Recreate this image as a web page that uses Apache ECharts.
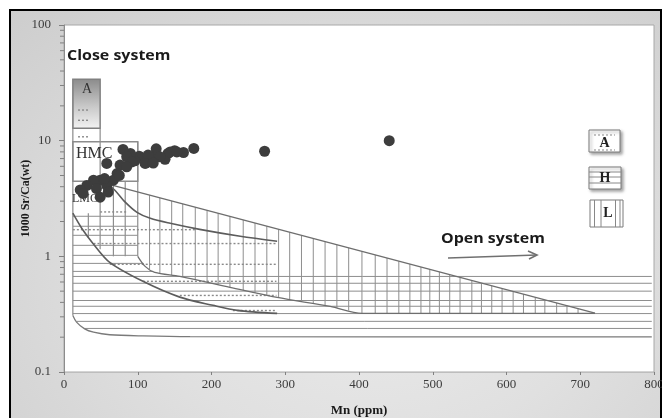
<!DOCTYPE html>
<html><head><meta charset="utf-8">
<script src="https://cdn.jsdelivr.net/npm/echarts@6/dist/echarts.min.js"></script>
<style>
html,body{margin:0;padding:0;background:#fff;overflow:hidden;}
#frame{position:absolute;left:9px;top:9px;width:649px;height:430px;border:2px solid #000;
 background:radial-gradient(ellipse at 55% 62%, #ebebeb 0%, #e0e0e0 45%, #cdcdcd 100%);}
#chart{position:absolute;left:0;top:0;width:662px;height:418px;}
</style></head><body>
<div id="frame"></div><div id="chart"></div>
<script>
// ---------- axes ----------
const xTickValues = [0, 100, 200, 300, 400, 500, 600, 700, 800];
const yTickValues = [0.1, 1, 10, 100];
const yTickLabels = ['0.1', '1', '10', '100'];
const yMinorTicks = [0.2,0.3,0.4,0.5,0.6,0.7,0.8,0.9,2,3,4,5,6,7,8,9,20,30,40,50,60,70,80,90];

// ---------- samples ----------
const sampleMn   = [176,162,150,141,137,125,121,112,102,96,90,80,85,76,72,58,67,58,49,40,31,22,26,44,49,60,92,85,114,130,110,121,144,153,55,75,272,441];
const sampleSrCa = [8.56,7.9,8.2,7.75,6.9,8.5,7.25,6.45,7.35,6.7,7.75,8.4,7.25,6.15,5.2,6.35,4.55,4.1,4.55,4.55,4.1,3.75,3.5,3.85,3.25,3.6,6.55,5.95,7.5,7.25,6.35,6.4,8.0,8.0,4.7,5.0,8.1,10.0];

// ---------- field boxes ----------
const aBoxMn = [12, 49];      const aBoxSrCa = [12.8, 34];
const hmcBoxMn = [12, 100];   const hmcBoxSrCa = [4.46, 9.77];
const leftEdgeLine = [[12, 34], [12, 0.308]];

// ---------- field boundary curves ----------
const upperACurve = [[60,4.2],[69,3.73],[83,2.94],[99,2.40],[117,2.13],[144,1.93],[184,1.71],[239,1.49],[289,1.35]];
const lowerACurve = [[12,2.36],[24,1.75],[39,1.30],[62,0.887],[107,0.608],[157,0.444],[202,0.377],[235,0.341],[289,0.321]];
const lFieldTop = [[65,4.12],[720,0.323]];
const lFieldBottom = [[100,1.0],[110,0.819],[123,0.726],[157,0.671],[225,0.54],[289,0.441],[361,0.369],[404,0.321],[720,0.321]];
const hFieldBottom = [[12,0.308],[17,0.27],[28,0.236],[40,0.221],[62,0.21],[107,0.205],[171,0.202],[797,0.201]];

// ---------- hatching (H field: horizontal) ----------
const hLevels = [2.22,1.82,1.52,1.245,1.02,0.869,0.741,0.67,0.585,0.50,0.415,0.37,0.32,0.274,0.238];
const hStart  = [12,12,12,12,12,12,12,12,12,12,12,12,12,17,27];
const hEnd    = [100,100,100,100,100,108,121,797,797,797,797,797,797,797,797];

// ---------- hatching (L field: vertical) ----------
const lLeftMn     = [33, 49, 67, 83, 100];
const lLeftTop    = [2.36, 12.8, 4.46, 4.46, 9.77];
const lLeftBottom = [1.45, 1.15, 1.0, 1.0, 1.0];
const lLinesMn = [116,130,146,161,178,194,209,225,243,259,275,291,306,322,338,354,370,386,404,422,438,454,469,484,496,509,523,537,553,566,580,594,609,623,639,652,668,682,697];

// ---------- dotted trends (A field) ----------
const dotSrCa  = [18.4, 15.0, 10.8, 2.42, 1.70, 1.29, 0.853, 0.608, 0.459, 0.34];
const dotStart = [19, 19, 19, 49, 12, 40, 62, 107, 157, 229];
const dotEnd   = [35, 35, 35, 85, 180, 288, 288, 288, 288, 288];

const chart = echarts.init(document.getElementById('chart'), null, {renderer: 'canvas'});

function interpY(pts, x) {
  for (let i = 0; i < pts.length - 1; i++) {
    const a = pts[i], b = pts[i + 1];
    if (x >= a[0] && x <= b[0]) {
      const t = (x - a[0]) / (b[0] - a[0] || 1);
      return a[1] + t * (b[1] - a[1]);
    }
  }
  return pts[pts.length - 1][1];
}

function hSegRender(stroke, width, dash) {
  return function (params, api) {
    const a = api.coord([api.value(0), api.value(2)]);
    const b = api.coord([api.value(1), api.value(2)]);
    return {type: 'line', shape: {x1: a[0], y1: a[1], x2: b[0], y2: b[1]},
      style: {stroke: stroke, lineWidth: width, lineDash: dash || null}};
  };
}

const hatchColor = '#8e8e8e';
const curveColor = '#5c5c5c';

function lineSeries(data, color, width) {
  return {type: 'line', data: data, showSymbol: false, symbol: 'none', smooth: 0.3,
    lineStyle: {color: color, width: width}, silent: true, animation: false, z: 4};
}

const option = {
  backgroundColor: 'transparent',
  animation: false,
  grid: {left: 64, right: 8, top: 25, bottom: 46, show: true, backgroundColor: '#ffffff',
    borderColor: '#a8a8a8', borderWidth: 1, outerBoundsMode: 'none', containLabel: false},
  xAxis: {
    type: 'value', min: xTickValues[0], max: xTickValues[xTickValues.length - 1], interval: 100,
    name: 'Mn (ppm)', nameLocation: 'middle', nameGap: 32, nameMoveOverlap: false,
    nameTextStyle: {fontFamily: 'Liberation Serif', fontWeight: 'bold', fontSize: 13, color: '#1a1a1a'},
    axisLine: {show: true, lineStyle: {color: '#bdbdbd'}},
    axisTick: {show: true, length: 3, lineStyle: {color: '#808080'}},
    axisLabel: {fontFamily: 'Liberation Serif', fontSize: 13, color: '#3c3c3c', margin: 6},
    splitLine: {show: false}
  },
  yAxis: {
    type: 'log', logBase: 10, min: 0.1, max: 100,
    name: '1000 Sr/Ca(wt)', nameLocation: 'middle', nameGap: 32, nameMoveOverlap: false,
    nameTextStyle: {fontFamily: 'Liberation Serif', fontWeight: 'bold', fontSize: 12, color: '#1a1a1a'},
    axisLine: {show: true, lineStyle: {color: '#8c8c8c'}},
    axisTick: {show: true, length: 5, lineStyle: {color: '#808080'}},
    axisLabel: {fontFamily: 'Liberation Serif', fontSize: 13, color: '#3c3c3c', margin: 13,
      formatter: function (v) {
        const i = yTickValues.findIndex(t => Math.abs(t - v) / t < 1e-6);
        return i >= 0 ? yTickLabels[i] : '';
      }},
    splitLine: {show: false}
  },
  series: [
    // minor ticks on the log axis
    {type: 'custom', silent: true, clip: false, z: 3, encode: {x: 0, y: 1},
      data: yMinorTicks.map(v => [0, v]),
      renderItem: function (params, api) {
        const p = api.coord([0, api.value(1)]);
        return {type: 'line', shape: {x1: p[0] - 4, y1: p[1], x2: p[0], y2: p[1]},
          style: {stroke: '#808080', lineWidth: 1}};
      }},
    // A box (gradient)
    {type: 'custom', silent: true, z: 2, encode: {x: [0, 1], y: [2, 3]},
      data: [[aBoxMn[0], aBoxMn[1], aBoxSrCa[0], aBoxSrCa[1]]],
      renderItem: function (params, api) {
        const p0 = api.coord([api.value(0), api.value(3)]);
        const p1 = api.coord([api.value(1), api.value(2)]);
        return {type: 'rect', shape: {x: p0[0], y: p0[1], width: p1[0] - p0[0], height: p1[1] - p0[1]},
          style: {fill: {type: 'linear', x: 0, y: 0, x2: 0, y2: 1,
            colorStops: [{offset: 0, color: '#8a8a8a'}, {offset: 0.55, color: '#c8c8c8'}, {offset: 1, color: '#f4f4f4'}]},
            stroke: '#808080', lineWidth: 1.5}};
      }},
    // HMC box
    {type: 'custom', silent: true, z: 3, encode: {x: [0, 1], y: [2, 3]},
      data: [[hmcBoxMn[0], hmcBoxMn[1], hmcBoxSrCa[0], hmcBoxSrCa[1]]],
      renderItem: function (params, api) {
        const p0 = api.coord([api.value(0), api.value(3)]);
        const p1 = api.coord([api.value(1), api.value(2)]);
        return {type: 'rect', shape: {x: p0[0], y: p0[1], width: p1[0] - p0[0], height: p1[1] - p0[1]},
          style: {fill: null, stroke: '#8c8c8c', lineWidth: 1.5}};
      }},
    // horizontal hatching (H field)
    {type: 'custom', silent: true, z: 2, encode: {x: [0, 1], y: 2},
      data: hLevels.map((v, i) => [hStart[i], hEnd[i], v]),
      renderItem: hSegRender(hatchColor, 1)},
    // left vertical hatching (L box)
    {type: 'custom', silent: true, z: 2, encode: {x: 0, y: [1, 2]},
      data: lLeftMn.map((m, i) => [m, lLeftTop[i], lLeftBottom[i]]),
      renderItem: function (params, api) {
        const a = api.coord([api.value(0), api.value(1)]);
        const b = api.coord([api.value(0), api.value(2)]);
        return {type: 'line', shape: {x1: a[0], y1: a[1], x2: b[0], y2: b[1]},
          style: {stroke: hatchColor, lineWidth: 1.2}};
      }},
    // vertical hatching inside the L field
    {type: 'custom', silent: true, z: 2, encode: {x: 0, y: 1},
      data: lLinesMn.map(m => [m, 1]),
      renderItem: function (params, api) {
        const x = api.coord([api.value(0), 1])[0];
        const topPts = lFieldTop.map(p => api.coord(p));
        const botPts = lFieldBottom.map(p => api.coord(p));
        const y1 = interpY(topPts, x), y2 = interpY(botPts, x);
        return {type: 'line', shape: {x1: x, y1: y1, x2: x, y2: y2},
          style: {stroke: hatchColor, lineWidth: 1}};
      }},
    // dotted trends
    {type: 'custom', silent: true, z: 3, encode: {x: [0, 1], y: 2},
      data: dotSrCa.map((v, i) => [dotStart[i], dotEnd[i], v]),
      renderItem: hSegRender('#8a8a8a', 1.4, [2, 2])},
    // boundaries
    lineSeries(leftEdgeLine, '#8a8a8a', 1.2),
    lineSeries(hFieldBottom, '#7a7a7a', 1.3),
    lineSeries(lFieldTop, '#6e6e6e', 1.3),
    lineSeries(lFieldBottom, '#6e6e6e', 1.3),
    lineSeries(upperACurve, curveColor, 1.6),
    lineSeries(lowerACurve, curveColor, 1.6),
    // samples
    {type: 'scatter', z: 10, silent: true, symbol: 'circle', symbolSize: 11,
      itemStyle: {color: '#3d3d3d', opacity: 1},
      data: sampleMn.map((m, i) => [m, sampleSrCa[i]])}
  ],
  graphic: [
    {type: 'text', z: 20, x: 67, y: 56, scaleX: 1.14, style: {text: 'Close system', x: 0, y: 0, align: 'left', verticalAlign: 'middle',
      font: 'bold 14px "Open Sans"', fill: '#1a1a1a'}},
    {type: 'text', z: 20, x: 441, y: 239, scaleX: 1.14, style: {text: 'Open system', x: 0, y: 0, align: 'left', verticalAlign: 'middle',
      font: 'bold 14px "Open Sans"', fill: '#1a1a1a'}},
    {type: 'polyline', z: 20, shape: {points: [[448, 258], [537, 255]]}, style: {stroke: '#707070', lineWidth: 1.6, fill: null}},
    {type: 'polyline', z: 20, shape: {points: [[528, 251], [537, 255], [529, 259]]}, style: {stroke: '#707070', lineWidth: 1.6, fill: null}},
    {type: 'text', z: 6, style: {text: 'A', x: 87, y: 89, align: 'center', verticalAlign: 'middle',
      font: '14px "Liberation Serif"', fill: '#333'}},
    {type: 'text', z: 6, style: {text: 'HMC', x: 76, y: 154, align: 'left', verticalAlign: 'middle',
      font: '16px "Liberation Serif"', fill: '#333'}},
    {type: 'text', z: 6, style: {text: 'LMC', x: 72, y: 199, align: 'left', verticalAlign: 'middle',
      font: '12px "Liberation Serif"', fill: '#333'}},
    // legend: A
    {type: 'rect', z: 20, shape: {x: 589, y: 130, width: 31, height: 22},
      style: {fill: '#fff', stroke: '#7a7a7a', lineWidth: 1, shadowBlur: 3, shadowColor: 'rgba(0,0,0,0.35)', shadowOffsetX: 2, shadowOffsetY: 2}},
    {type: 'line', z: 21, shape: {x1: 594, y1: 135, x2: 615, y2: 135}, style: {stroke: '#888', lineWidth: 1.2, lineDash: [2, 2]}},
    {type: 'line', z: 21, shape: {x1: 594, y1: 150, x2: 615, y2: 150}, style: {stroke: '#888', lineWidth: 1.2, lineDash: [2, 2]}},
    {type: 'text', z: 22, style: {text: 'A', x: 604.5, y: 143, align: 'center', verticalAlign: 'middle',
      font: 'bold 14px "Liberation Serif"', fill: '#222'}},
    // legend: H
    {type: 'rect', z: 20, shape: {x: 589, y: 167, width: 32, height: 22},
      style: {fill: '#fff', stroke: '#7a7a7a', lineWidth: 1, shadowBlur: 3, shadowColor: 'rgba(0,0,0,0.35)', shadowOffsetX: 2, shadowOffsetY: 2}},
    {type: 'line', z: 21, shape: {x1: 589, y1: 172, x2: 621, y2: 172}, style: {stroke: '#888', lineWidth: 1}},
    {type: 'line', z: 21, shape: {x1: 589, y1: 177, x2: 621, y2: 177}, style: {stroke: '#888', lineWidth: 1}},
    {type: 'line', z: 21, shape: {x1: 589, y1: 183, x2: 621, y2: 183}, style: {stroke: '#888', lineWidth: 1}},
    {type: 'text', z: 22, style: {text: 'H', x: 605, y: 178, align: 'center', verticalAlign: 'middle',
      font: 'bold 14px "Liberation Serif"', fill: '#222'}},
    // legend: L
    {type: 'rect', z: 20, shape: {x: 590, y: 200, width: 33, height: 27},
      style: {fill: '#fff', stroke: '#7a7a7a', lineWidth: 1}},
    {type: 'line', z: 21, shape: {x1: 594.5, y1: 200, x2: 594.5, y2: 227}, style: {stroke: '#888', lineWidth: 1}},
    {type: 'line', z: 21, shape: {x1: 601, y1: 200, x2: 601, y2: 227}, style: {stroke: '#888', lineWidth: 1}},
    {type: 'line', z: 21, shape: {x1: 615.5, y1: 200, x2: 615.5, y2: 227}, style: {stroke: '#888', lineWidth: 1}},
    {type: 'line', z: 21, shape: {x1: 620, y1: 200, x2: 620, y2: 227}, style: {stroke: '#888', lineWidth: 1}},
    {type: 'text', z: 22, style: {text: 'L', x: 608, y: 213.5, align: 'center', verticalAlign: 'middle',
      font: 'bold 14px "Liberation Serif"', fill: '#222'}}
  ]
};
chart.setOption(option);
</script>
</body></html>
